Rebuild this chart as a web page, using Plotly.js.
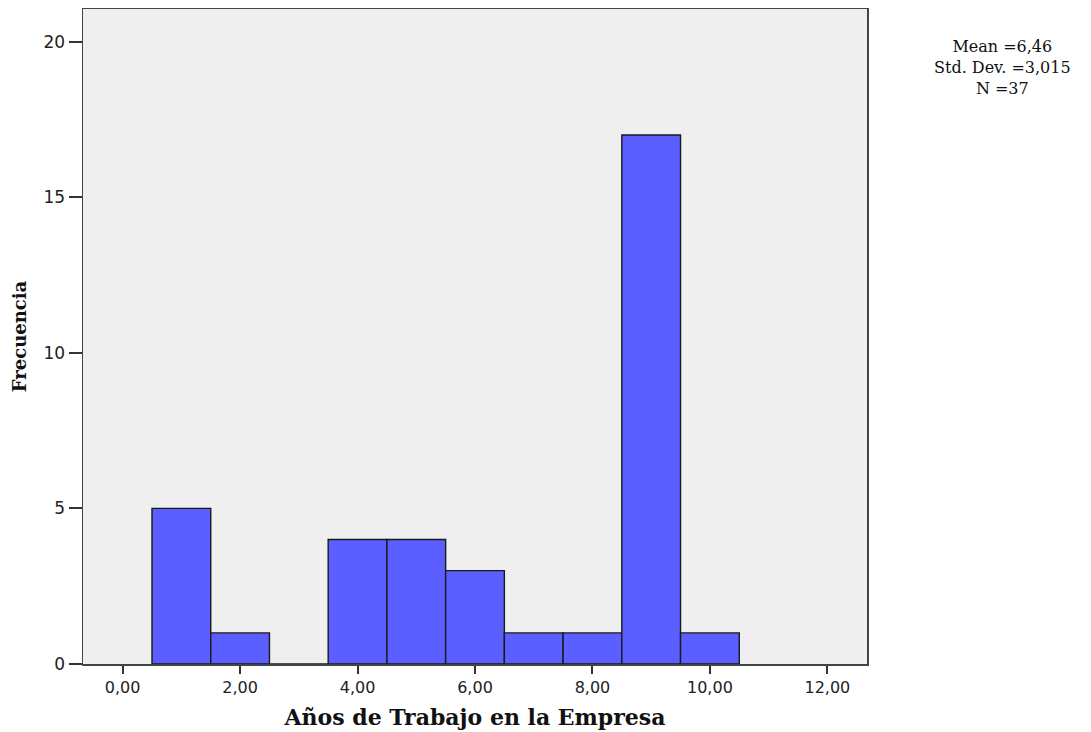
<!DOCTYPE html>
<html>
<head>
<meta charset="utf-8">
<script src="https://cdn.plot.ly/plotly-3.0.1.min.js"></script>
<style>html,body{margin:0;padding:0;background:#fff;}#chart{width:1091px;height:732px;}</style>
</head>
<body>
<div id="chart"></div>
<script>
const binCenters = [1, 2, 3, 4, 5, 6, 7, 8, 9, 10];
const frequencies = [5, 1, 0, 4, 4, 3, 1, 1, 17, 1];
const xTicks = [0, 2, 4, 6, 8, 10, 12];
const yTicks = [0, 5, 10, 15, 20];
const statsLines = ["Mean =6,46", "Std. Dev. =3,015", "N =37"];
const xTitle = "Años de Trabajo en la Empresa";
const yTitle = "Frecuencia";

const trace = {
  type: "bar",
  x: binCenters,
  y: frequencies,
  width: 1,
  marker: {color: "#5B5FFF", line: {color: "#1a1a1a", width: 1.4}},
  hoverinfo: "x+y"
};

const layout = {
  width: 1091, height: 732,
  margin: {l: 83, r: 224, t: 9, b: 68},
  paper_bgcolor: "#ffffff",
  plot_bgcolor: "#efefef",
  separators: ",.",
  showlegend: false,
  xaxis: {
    range: [-0.675, 12.675],
    tickvals: xTicks,
    tickformat: ".2f",
    ticks: "outside", ticklen: 8, tickwidth: 2, tickcolor: "#333",
    showline: true, linecolor: "#444", linewidth: 1.5, mirror: true,
    showgrid: false, zeroline: false,
    tickfont: {family: "DejaVu Sans, sans-serif", size: 16, color: "#222"},
    title: {text: "<b>" + xTitle + "</b>", standoff: 14,
      font: {family: "DejaVu Serif, serif", size: 22, color: "#111"}}
  },
  yaxis: {
    range: [0, 21.05],
    tickvals: yTicks,
    ticks: "outside", ticklen: 13, tickwidth: 2, tickcolor: "#333",
    showline: true, linecolor: "#444", linewidth: 1.5, mirror: true,
    showgrid: false, zeroline: false,
    tickfont: {family: "DejaVu Sans, sans-serif", size: 17, color: "#222"},
    title: {text: "<b>" + yTitle + "</b>", standoff: 12,
      font: {family: "DejaVu Serif, serif", size: 18, color: "#111"}}
  },
  annotations: [{
    xref: "paper", yref: "paper",
    x: 1.173, y: 0.911, xanchor: "center", yanchor: "middle",
    text: statsLines.join("<br>"), showarrow: false, align: "center",
    font: {family: "DejaVu Serif, serif", size: 16, color: "#111"}
  }]
};

Plotly.newPlot("chart", [trace], layout, {displayModeBar: false, staticPlot: true});
</script>
</body>
</html>
